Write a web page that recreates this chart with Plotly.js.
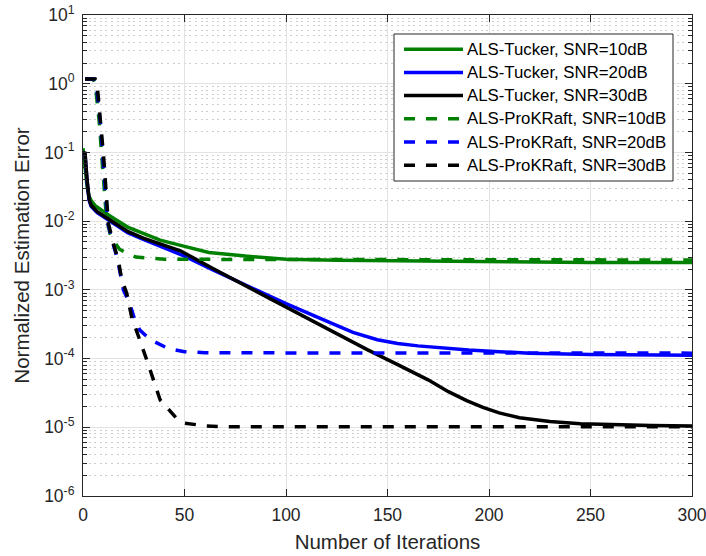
<!DOCTYPE html>
<html>
<head>
<meta charset="utf-8">
<script src="https://cdn.plot.ly/plotly-3.0.1.min.js"></script>
<style>
  html, body { margin: 0; padding: 0; background: #fff; }
  #chart { width: 706px; height: 556px; }
</style>
</head>
<body>
<div id="chart"></div>
<script>
// Normalized estimation error versus iteration count

// ALS-Tucker, SNR = 10 dB
const tucker10X = [0, 1, 2, 3, 4, 6, 8, 12, 16, 22, 30, 38, 50, 62, 80, 100, 125, 150, 200, 250, 300];
const tucker10Y = [0.115, 0.06, 0.032, 0.023, 0.02, 0.0168, 0.0152, 0.0126, 0.0106, 0.0082, 0.0066, 0.0053, 0.0043, 0.0035, 0.0031, 0.0028, 0.0027, 0.00265, 0.0026, 0.0025, 0.0025];

// ALS-Tucker, SNR = 20 dB
const tucker20X = [0, 1, 2, 3, 4, 7, 12, 22, 30, 40, 50, 64, 80, 100, 120, 133, 145, 155, 165, 175, 190, 205, 220, 250, 300];
const tucker20Y = [0.1, 0.095, 0.038, 0.02, 0.0165, 0.0133, 0.0106, 0.0068, 0.0054, 0.0041, 0.0031, 0.00195, 0.00118, 0.00063, 0.00035, 0.00024, 0.000188, 0.000166, 0.000153, 0.000144, 0.000133, 0.000126, 0.00012, 0.000115, 0.000112];

// ALS-Tucker, SNR = 30 dB
const tucker30X = [0, 1, 2, 3, 4, 7, 12, 22, 30, 40, 48, 64, 80, 100, 120, 140, 156, 170, 180, 189, 197, 205, 215, 230, 245, 260, 280, 300];
const tucker30Y = [0.1, 0.098, 0.04, 0.021, 0.017, 0.0137, 0.011, 0.0071, 0.0056, 0.0044, 0.0037, 0.00204, 0.00115, 0.00056, 0.000275, 0.000135, 0.000079, 0.000049, 0.000033, 0.0000245, 0.0000195, 0.0000162, 0.0000138, 0.0000121, 0.0000113, 0.0000109, 0.0000106, 0.0000104];

// ALS-ProKRaft, SNR = 10 dB
const prok10X = [1, 5, 6, 7, 8, 9, 10, 10.6, 11.5, 13.3, 15.8, 18, 21.7, 26, 31.5, 40, 50, 100, 200, 300];
const prok10Y = [1.17, 1.17, 1.0, 0.55, 0.28, 0.11, 0.04, 0.02, 0.0115, 0.0066, 0.0048, 0.0039, 0.0034, 0.003, 0.0029, 0.00279, 0.00278, 0.00277, 0.00275, 0.00272];

// ALS-ProKRaft, SNR = 20 dB
const prok20X = [1, 5.5, 6.5, 7.5, 8.5, 9.5, 10.5, 11.3, 12.2, 14.5, 17, 19.9, 23, 25.6, 28, 33, 42, 50, 60, 100, 200, 300];
const prok20Y = [1.17, 1.17, 1.0, 0.55, 0.28, 0.11, 0.04, 0.02, 0.0095, 0.005, 0.0028, 0.001, 0.00063, 0.00036, 0.00026, 0.00019, 0.00014, 0.000126, 0.000122, 0.000121, 0.00012, 0.00012];

// ALS-ProKRaft, SNR = 30 dB
const prok30X = [1, 6, 7, 7.5, 8.5, 10, 11, 11.7, 12.5, 14.9, 17.4, 19.1, 21.5, 24, 28, 32, 38, 46, 50, 60, 70, 100, 200, 300];
const prok30Y = [1.17, 1.17, 0.95, 0.58, 0.3, 0.1, 0.04, 0.02, 0.0093, 0.0048, 0.0027, 0.0014, 0.0009, 0.0004, 0.000186, 0.000085, 0.000025, 0.0000136, 0.0000115, 0.0000105, 0.0000102, 0.0000102, 0.0000102, 0.0000102];

const seriesNames = [
  'ALS-Tucker, SNR=10dB', 'ALS-Tucker, SNR=20dB', 'ALS-Tucker, SNR=30dB',
  'ALS-ProKRaft, SNR=10dB', 'ALS-ProKRaft, SNR=20dB', 'ALS-ProKRaft, SNR=30dB'
];
const xTickVals = [0, 50, 100, 150, 200, 250, 300];
const yTickVals = [1e-6, 1e-5, 1e-4, 1e-3, 1e-2, 1e-1, 1e0, 1e1];
const yTickText = ['10<sup>-6</sup>', '10<sup>-5</sup>', '10<sup>-4</sup>', '10<sup>-3</sup>',
                   '10<sup>-2</sup>', '10<sup>-1</sup>', '10<sup>0</sup>', '10<sup>1</sup>'];

const FONT = 'Liberation Sans, Arial, Helvetica, sans-serif';
const INK = '#262626';
const GREEN = '#008000', BLUE = '#0000ff', BLACK = '#000000';
const DASH = '11px,11px';
const LW = 3.5;

const xs = [tucker10X, tucker20X, tucker30X, prok10X, prok20X, prok30X];
const ys = [tucker10Y, tucker20Y, tucker30Y, prok10Y, prok20Y, prok30Y];
const colors = [GREEN, BLUE, BLACK, GREEN, BLUE, BLACK];
const dashes = ['solid', 'solid', 'solid', DASH, DASH, DASH];

const traces = seriesNames.map((name, i) => ({
  type: 'scatter',
  mode: 'lines',
  name: name,
  showlegend: false,
  x: xs[i],
  y: ys[i],
  line: { color: colors[i], width: LW, dash: dashes[i], shape: 'linear' }
}));

// Boxed key in the upper right of the axes (paper coordinates)
const M = { l: 83, r: 14, t: 15, b: 60 };
const plotW = 706 - M.l - M.r, plotH = 556 - M.t - M.b;
const px = v => (v - M.l) / plotW;
const py = v => (556 - M.b - v) / plotH;
const key = { left: 394, right: 673, top: 34, bottom: 181, firstRow: 49.2, rowStep: 23.2,
              sampleFrom: 404, sampleTo: 463, textAt: 465 };

const shapes = [{
  type: 'rect', xref: 'paper', yref: 'paper', layer: 'above',
  x0: px(key.left), x1: px(key.right), y0: py(key.bottom), y1: py(key.top),
  fillcolor: '#ffffff', line: { color: INK, width: 1 }
}];
const annotations = [];
seriesNames.forEach((name, i) => {
  const rowY = py(key.firstRow + i * key.rowStep);
  shapes.push({
    type: 'line', xref: 'paper', yref: 'paper', layer: 'above',
    x0: px(key.sampleFrom), x1: px(key.sampleTo), y0: rowY, y1: rowY,
    line: { color: colors[i], width: LW, dash: dashes[i] }
  });
  annotations.push({
    xref: 'paper', yref: 'paper', x: px(key.textAt), y: rowY,
    xanchor: 'left', yanchor: 'middle', showarrow: false,
    text: name, font: { family: FONT, size: 16.8, color: '#000000' }
  });
});

const layout = {
  width: 706,
  height: 556,
  margin: { l: M.l, r: M.r, t: M.t, b: M.b, pad: 0 },
  paper_bgcolor: '#ffffff',
  plot_bgcolor: '#ffffff',
  font: { family: FONT, color: INK, size: 17 },
  showlegend: false,
  shapes: shapes,
  annotations: annotations,
  xaxis: {
    range: [0, 300],
    tickvals: xTickVals,
    ticks: 'inside', ticklen: 7, tickwidth: 1, tickcolor: INK,
    ticklabelstandoff: 3,
    ticklabeloverflow: 'allow',
    showline: true, linecolor: INK, linewidth: 1, mirror: 'allticks',
    showgrid: true, gridcolor: '#e3e3e3', gridwidth: 1,
    zeroline: false,
    tickfont: { family: FONT, size: 17.5, color: INK },
    title: { text: 'Number of Iterations', font: { family: FONT, size: 20.5, color: INK }, standoff: 10 }
  },
  yaxis: {
    type: 'log',
    range: [-6, 1],
    tickvals: yTickVals,
    ticktext: yTickText,
    ticks: 'inside', ticklen: 7, tickwidth: 1, tickcolor: INK,
    ticklabelstandoff: 4,
    ticklabeloverflow: 'allow',
    showline: true, linecolor: INK, linewidth: 1, mirror: 'allticks',
    showgrid: true, gridcolor: '#e3e3e3', gridwidth: 1,
    zeroline: false,
    tickfont: { family: FONT, size: 17.5, color: INK },
    minor: {
      dtick: 'D1',
      ticks: 'inside', ticklen: 4, tickwidth: 1, tickcolor: INK,
      showgrid: true, gridcolor: '#cdcdcd', gridwidth: 1, griddash: '2px,3.6px'
    },
    title: { text: 'Normalized Estimation Error', font: { family: FONT, size: 20.5, color: INK }, standoff: 8 }
  }
};

Plotly.newPlot('chart', traces, layout, { staticPlot: true, displayModeBar: false });
</script>
</body>
</html>
